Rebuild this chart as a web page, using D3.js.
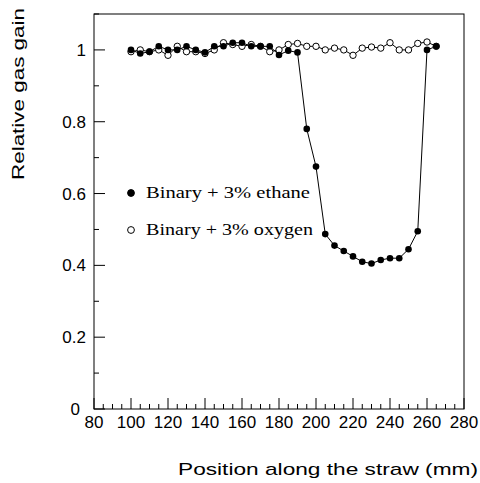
<!DOCTYPE html>
<html><head><meta charset="utf-8">
<script src="https://cdn.jsdelivr.net/npm/d3@7"></script>
<style>body{margin:0;background:#fff}</style>
</head><body>
<script>
const positions = d3.range(100, 266, 5);
const ethane = [1.0,0.99,0.995,1.01,1.0,1.0,1.01,1.0,0.993,1.01,1.01,1.02,1.02,1.01,1.01,1.01,0.986,0.998,0.993,0.78,0.675,0.487,0.455,0.44,0.425,0.41,0.405,0.415,0.42,0.42,0.445,0.495,1.0,1.01];
const oxygen = [0.995,1.0,0.995,1.0,0.985,1.01,0.995,0.995,0.99,1.0,1.02,1.015,1.01,1.015,1.01,0.995,1.0,1.015,1.018,1.01,1.01,1.0,1.005,1.0,0.985,1.005,1.008,1.005,1.02,1.0,1.0,1.018,1.022,1.01];
const yTicks = [0,0.2,0.4,0.6,0.8,1];
const legendItems = [["Binary + 3% ethane", true], ["Binary + 3% oxygen", false]];

const W = 480, H = 483;
const sans = "Liberation Sans, Arial";
const svg = d3.select("body").append("svg").attr("width", W).attr("height", H);
const x = d3.scaleLinear().domain([80, 280]).range([94, 464]);
const y = d3.scaleLinear().domain([0, 1.1]).range([409, 14]);

svg.append("rect").attr("x",94).attr("y",14).attr("width",370).attr("height",395)
  .attr("fill","none").attr("stroke","#000");

// x ticks
const xt = svg.append("g").attr("stroke","#000");
d3.range(80, 281, 5).forEach(v => {
  const major = v % 20 === 0;
  xt.append("line").attr("x1",x(v)).attr("x2",x(v)).attr("y1",409).attr("y2",409-(major?11:5));
});
svg.append("g").attr("font-family",sans).attr("font-size",17).attr("text-anchor","middle")
  .selectAll("text").data(d3.range(80,281,20)).join("text")
  .attr("x",d=>x(d)).attr("y",428).text(d=>d);

// y ticks
const yt = svg.append("g").attr("stroke","#000");
d3.range(0, 1.101, 0.1).forEach((v,i) => {
  const major = i % 2 === 0;
  yt.append("line").attr("x1",94).attr("x2",94+(major?11:5)).attr("y1",y(v)).attr("y2",y(v));
});
svg.append("g").attr("font-family",sans).attr("font-size",17).attr("text-anchor","end")
  .selectAll("text").data(yTicks).join("text")
  .attr("x",d=>d===0?80:86).attr("y",d=>y(d)+6).text(d=>d);

svg.append("text").attr("transform","translate(24,94) rotate(-90)").attr("text-anchor","middle")
  .attr("font-family",sans).attr("font-size",17).attr("textLength",172).attr("lengthAdjust","spacingAndGlyphs")
  .text("Relative gas gain");
svg.append("text").attr("x",328).attr("y",475).attr("text-anchor","middle")
  .attr("font-family",sans).attr("font-size",17).attr("textLength",300).attr("lengthAdjust","spacingAndGlyphs")
  .text("Position along the straw (mm)");

const line = d3.line().x((d,i)=>x(positions[i])).y(d=>y(d));
svg.append("path").attr("d",line(oxygen)).attr("fill","none").attr("stroke","#000");
svg.append("path").attr("d",line(ethane)).attr("fill","none").attr("stroke","#000");
svg.append("g").selectAll("circle").data(oxygen).join("circle")
  .attr("cx",(d,i)=>x(positions[i])).attr("cy",d=>y(d)).attr("r",3.2).attr("fill","#fff").attr("stroke","#000");
svg.append("g").selectAll("circle").data(ethane).join("circle")
  .attr("cx",(d,i)=>x(positions[i])).attr("cy",d=>y(d)).attr("r",3.3).attr("fill","#000");

const lg = svg.append("g");
legendItems.forEach(([label, filled], i) => {
  const cy = 193 + i*37;
  lg.append("circle").attr("cx",131).attr("cy",cy).attr("r",3.4)
    .attr("fill",filled?"#000":"#fff").attr("stroke","#000");
  lg.append("text").attr("x",146).attr("y",cy+5).attr("font-family","Liberation Serif, Times New Roman")
    .attr("font-size",17).attr("textLength", i===0?164:167).attr("lengthAdjust","spacingAndGlyphs").text(label);
});
</script>
</body></html>
